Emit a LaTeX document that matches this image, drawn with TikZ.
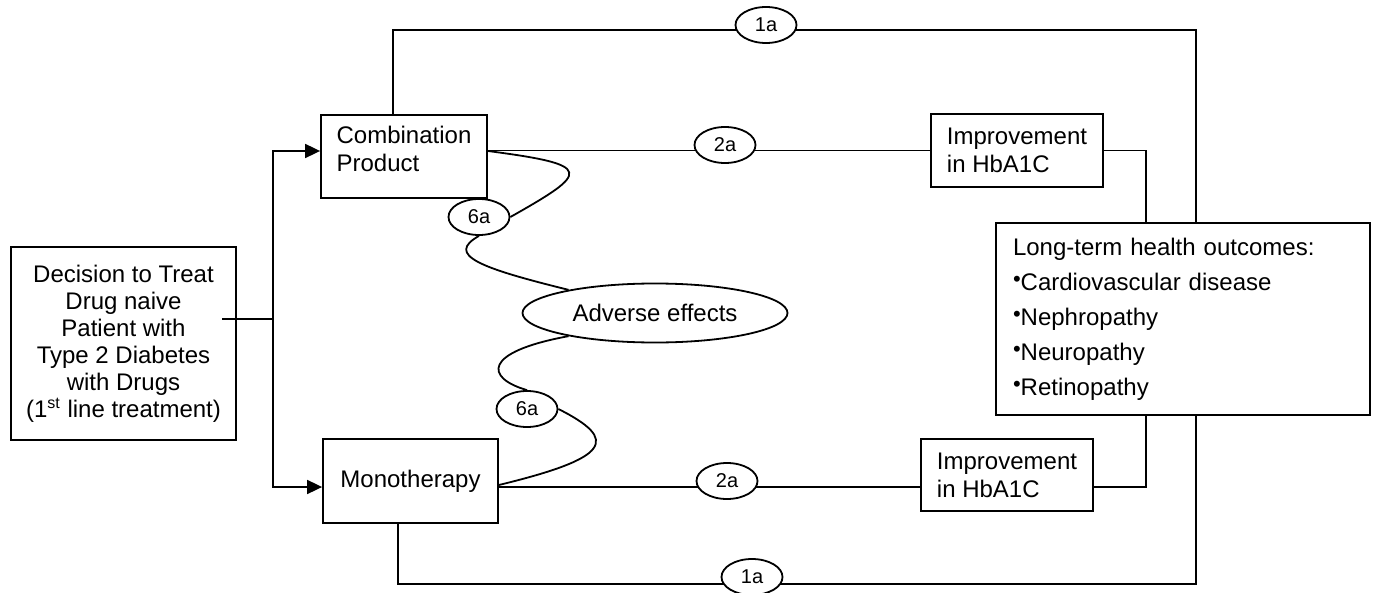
\documentclass[tikz,border=0pt]{standalone}
\usepackage{fontspec}
\setmainfont{Liberation Sans}
\usetikzlibrary{arrows.meta,shapes.geometric}

\newcommand{\blt}{\raisebox{2pt}{\fontsize{11}{11}\selectfont\textbullet}}

\begin{document}
\begin{tikzpicture}
  [x=0.5pt, y=-0.5pt, line width=0.9pt,
   box/.style={draw, rectangle, inner sep=0pt, font=\fontsize{12}{14}\selectfont},
   tag/.style={draw, ellipse, fill=white, minimum width=30.5pt, minimum height=18pt,
     inner sep=0pt, font=\fontsize{10}{11}\selectfont},
   arr/.style={-{Triangle[length=7.5pt,width=7pt]}}]
  \useasboundingbox (0,0) rectangle (1374,593);

  \node[box, minimum width=112.5pt, minimum height=96.5pt, align=center,
    font=\fontsize{12}{13.5}\selectfont] (nd) at (123.5,343.5)
    {Decision to Treat\\Drug naive\\ Patient with\\Type 2 Diabetes\\with Drugs\\(1\textsuperscript{st} line treatment)};
  \node[box, minimum width=83pt, minimum height=41.5pt, text depth=8pt, align=left] (nc) at (404,156.5) {Combination\\Product};
  \node[box, minimum width=87.5pt, minimum height=42pt, align=left] (nm) at (410.5,481) {Monotherapy};
  \node[box, minimum width=86pt, minimum height=36.5pt, align=left] (ni1) at (1017,150.5) {Improvement\\in HbA1C};
  \node[box, minimum width=86pt, minimum height=36pt, align=left] (ni2) at (1007,475) {Improvement\\in HbA1C};
  \node[box, text width=170pt, inner xsep=8.5pt, minimum height=96pt, align=left,
    font=\fontsize{12}{17.5}\selectfont] (nl) at (1183,319)
    {Long-term health outcomes:\\\blt Cardiovascular disease\\\blt Nephropathy\\\blt Neuropathy\\\blt Retinopathy};
  \node[draw, ellipse, minimum width=132.5pt, minimum height=29.5pt, inner sep=0pt,
    font=\fontsize{12}{14}\selectfont] (nae) at (655,313) {Adverse effects};

  % treatment choice
  \coordinate (s) at (222,319);
  \coordinate (j) at (273,319);
  \draw (s) -- (j);
  \draw[arr] (j) |- ([yshift=2.75pt]nc.west);
  \draw[arr] (j) |- ([yshift=-3pt]nm.west);

  % adverse effects
  \node[tag] (o6t) at (479,217) {6a};
  \node[tag] (o6b) at (527,409) {6a};
  \draw ([yshift=2.75pt]nc.east) .. controls (595,165) and (590,172) .. (o6t.east);
  \draw (o6t.south) .. controls (445,255) and (480,268) .. (nae.165);
  \draw (nae.195) .. controls (482,352) and (485,378) .. (o6b.north);
  \draw (o6b.east) .. controls (620,440) and (610,458) .. ([yshift=-2pt]nm.east);

  % outcomes
  \draw (ni1.west -| nc.east) -- (ni1.west);
  \draw (ni1.east) -| ([xshift=-18.5pt]nl.north);
  \draw ([yshift=-3pt]nm.east) -- ([yshift=-6pt]ni2.west);
  \draw ([yshift=-6pt]ni2.east) -| ([xshift=-18.5pt]nl.south);
  \draw ([xshift=-5.5pt]nc.north) -- ++(0,-84) -| ([xshift=6.5pt]nl.north);
  \draw ([xshift=-6.25pt]nm.south) -- ++(0,60) -| ([xshift=6.5pt]nl.south);

  \foreach \n/\x/\y/\t in {o1t/766/25/1a, o2t/725/145/2a, o2b/727/481/2a, o1b/752/577/1a}
  \node[tag] (\n) at (\x,\y) {\t};
\end{tikzpicture}
\end{document}
